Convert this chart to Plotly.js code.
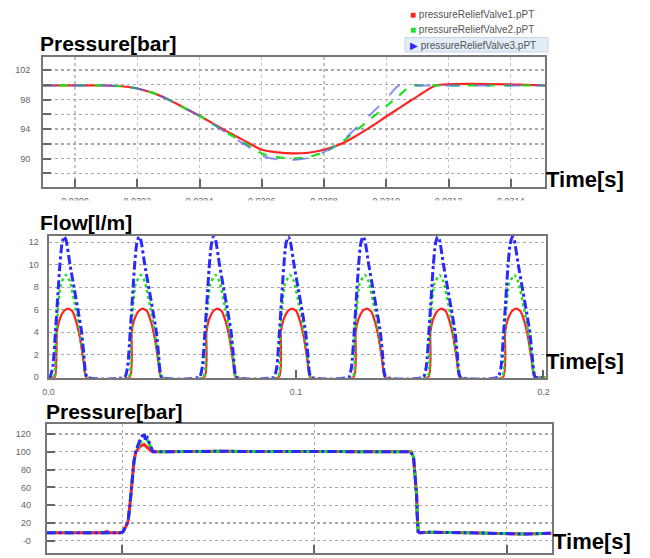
<!DOCTYPE html>
<html><head><meta charset="utf-8">
<script src="https://cdn.plot.ly/plotly-3.0.1.min.js"></script>
<style>html,body{margin:0;padding:0;background:#fff}</style>
</head><body><div id="chart" style="width:650px;height:558px"></div>
<script>
// ---------- Panel 1: pressure, zoomed time window ----------
const p1Time  = [0.02989, 0.03010, 0.03015, 0.03020, 0.03025, 0.03030, 0.03035, 0.03040, 0.03045, 0.03050, 0.03055, 0.03060, 0.03065, 0.03070, 0.03075, 0.03080, 0.03085, 0.03090, 0.03095, 0.03100, 0.03104, 0.03108, 0.03111, 0.03116, 0.03152];
const p1Red   = [99.9, 99.9, 99.8, 99.5, 98.9, 98.0, 96.9, 95.8, 94.6, 93.4, 92.3, 91.2, 90.85, 90.7, 90.8, 91.2, 91.9, 93.0, 94.3, 95.7, 96.8, 97.9, 98.7, 99.9, 99.9];
const p1Green = [99.9, 99.9, 99.8, 99.5, 98.9, 98.0, 96.9, 95.8, 94.5, 93.2, 92.0, 90.7, 90.2, 90.0, 90.2, 90.9, 92.0, 93.7, 95.4, 97.1, 98.5, 99.9, 99.9, 99.9, 99.9];
const p1Blue  = [99.9, 99.9, 99.8, 99.5, 98.9, 98.0, 96.9, 95.8, 94.5, 93.1, 91.8, 90.4, 89.9, 89.8, 90.1, 90.9, 92.1, 94.0, 96.0, 98.1, 99.9, 99.9, 99.9, 99.9, 99.9];
const p1XTicks = [0.0300, 0.0302, 0.0304, 0.0306, 0.0308, 0.0310, 0.0312, 0.0314];
const p1XLabels = ['0.0300', '0.0302', '0.0304', '0.0306', '0.0308', '0.0310', '0.0312', '0.0314'];
const p1YTicks = [88, 90, 92, 94, 96, 98, 100, 102];
const p1YLabels = ['', '90', '', '94', '', '98', '', '102'];

// ---------- Panel 2: flow pulses ----------
const flowPulseStart = [0.0006, 0.0308, 0.0610, 0.0911, 0.1213, 0.1515, 0.1817];
const flowBlueDt   = [0, 0.0012, 0.0022, 0.0028, 0.0040, 0.0048, 0.0057, 0.0065, 0.0081, 0.0097, 0.0113, 0.0128, 0.0137, 0.0150];
const flowBlueVal  = [0, 1, 4, 6, 10, 11.8, 12.5, 12.2, 10, 8, 6, 4, 2, 0];
const flowRedDt    = [0.0020, 0.0028, 0.0040, 0.0057, 0.0073, 0.0089, 0.0105, 0.0121, 0.0137, 0.0146];
const flowRedVal   = [0, 4, 5.2, 5.9, 6.1, 5.9, 5.0, 3.5, 1.2, 0];
const flowGreenDt  = [0.0016, 0.0024, 0.0032, 0.0044, 0.0065, 0.0081, 0.0105, 0.0121, 0.0137, 0.0148];
const flowGreenVal = [0, 3, 6, 8.3, 9.1, 8.5, 6, 4, 1.5, 0];
const p2XTicks = [0, 0.1, 0.2];
const p2XLabels = ['0.0', '0.1', '0.2'];
const p2YTicks = [0, 2, 4, 6, 8, 10, 12];

// ---------- Panel 3: pressure, long time window ----------
const p3Time  = [0.0607, 0.0884, 0.0905, 0.0919, 0.0935, 0.0988, 0.1004, 0.1014, 0.1030, 0.1040, 0.1049, 0.1061, 0.1071, 0.1092, 0.1113, 0.1120, 0.1130, 0.1140, 0.1150, 0.1160, 0.1500, 0.2000, 0.2502, 0.2516, 0.2523, 0.2532, 0.2535, 0.2540, 0.2549, 0.2600, 0.2800, 0.3000, 0.3100, 0.3235];
const p3Red   = [9, 9, 9, 10.5, 9, 9, 10, 14, 21, 40, 59, 89, 100, 106, 108.3, 107, 105, 102.5, 101, 100, 100.5, 100.3, 100, 94, 77, 51, 29, 10, 9, 9.5, 9, 8, 7.5, 8.5];
const p3Green = [9, 9, 9, 9.2, 9, 9, 10, 14, 21, 40, 59, 89, 100, 110, 116, 113, 114, 108, 104, 100, 100.5, 100.3, 100, 94, 77, 51, 29, 10, 9, 9.5, 9, 8, 7.5, 8.5];
const p3Blue  = [9, 9, 9, 9, 9, 9, 10, 14, 21, 40, 59, 89, 101, 113, 121.4, 114, 116, 110, 106, 100, 100.5, 100.3, 100, 94, 77, 51, 29, 10, 9, 9.5, 9, 8, 7.5, 8.5];
const p3XTicks = [0.1, 0.2, 0.3];
const p3YTicks = [0, 20, 40, 60, 80, 100, 120];
const p3YLabels = ['-0', '20', '40', '60', '80', '100', '120'];

const seriesNames = ['pressureReliefValve1.pPT', 'pressureReliefValve2.pPT', 'pressureReliefValve3.pPT'];

// ---------- build ----------
function buildPulses(dts, vals, end) {
  const x = [0], y = [0];
  flowPulseStart.forEach(s => { dts.forEach((d, i) => { x.push(+(s + d).toFixed(5)); y.push(vals[i]); }); });
  x.push(end); y.push(0);
  return {x, y};
}
const RED = '#ff2424', GREEN = '#1ee01e', BLUE = '#2828ff';
const W = 650, H = 558;
const px = v => v / W, py = v => 1 - v / H;

const fr = buildPulses(flowRedDt, flowRedVal, 0.2009);
const fg = buildPulses(flowGreenDt, flowGreenVal, 0.2009);
const fb = buildPulses(flowBlueDt, flowBlueVal, 0.2009);

const traces = [
  {x: p1Time, y: p1Red, xaxis: 'x', yaxis: 'y', mode: 'lines', line: {color: RED, width: 2.2, shape: 'spline', smoothing: 0.6}},
  {x: p1Time, y: p1Green, xaxis: 'x', yaxis: 'y', mode: 'lines', line: {color: GREEN, width: 2.2, dash: 'dash', shape: 'spline', smoothing: 0.6}},
  {x: p1Time, y: p1Blue, xaxis: 'x', yaxis: 'y', mode: 'lines', line: {color: 'rgba(90,100,245,0.7)', width: 2, dash: 'longdash', shape: 'spline', smoothing: 0.6}},
  {x: fr.x, y: fr.y, xaxis: 'x2', yaxis: 'y2', mode: 'lines', line: {color: RED, width: 2.2, shape: 'spline', smoothing: 0.5}},
  {x: fg.x, y: fg.y, xaxis: 'x2', yaxis: 'y2', mode: 'lines', line: {color: GREEN, width: 2.5, dash: 'dot', shape: 'spline', smoothing: 0.5}},
  {x: fb.x, y: fb.y, xaxis: 'x2', yaxis: 'y2', mode: 'lines', line: {color: BLUE, width: 3, dash: 'dashdot', shape: 'spline', smoothing: 0.5}},
  {x: p3Time, y: p3Red, xaxis: 'x3', yaxis: 'y3', mode: 'lines', line: {color: RED, width: 3}},
  {x: p3Time, y: p3Green, xaxis: 'x3', yaxis: 'y3', mode: 'lines', line: {color: GREEN, width: 3, dash: 'dash'}},
  {x: p3Time, y: p3Blue, xaxis: 'x3', yaxis: 'y3', mode: 'lines', line: {color: BLUE, width: 3, dash: 'dashdot'}}
];

const tickFont = {family: 'Liberation Sans, Arial, sans-serif', size: 9, color: '#666'};
const axBase = {showline: true, mirror: true, linecolor: '#767676', linewidth: 2, zeroline: false,
  showgrid: true, gridcolor: '#a8a8a8', griddash: 'dot', gridwidth: 1.3, tickfont: tickFont,
  ticks: 'inside', ticklen: 8, tickwidth: 2, tickcolor: '#666', fixedrange: true};

const layout = {
  width: W, height: H, margin: {l: 0, r: 0, t: 0, b: 0},
  paper_bgcolor: '#fff', plot_bgcolor: '#fff', showlegend: false,
  xaxis: Object.assign({}, axBase, {domain: [px(43), px(545)], range: [0.029897, 0.03151], anchor: 'y',
    tickmode: 'array', tickvals: p1XTicks, ticktext: p1XLabels, gridcolor: '#c4c4c4', ticklabelstandoff: 4}),
  yaxis: Object.assign({}, axBase, {domain: [py(186.7), py(57)], range: [86.2, 103.76], anchor: 'x',
    tickmode: 'array', tickvals: p1YTicks, ticktext: p1YLabels, ticklabelstandoff: 9}),
  xaxis2: Object.assign({}, axBase, {domain: [px(48.5), px(545.7)], range: [0, 0.2009], anchor: 'y2',
    tickmode: 'array', tickvals: p2XTicks, ticktext: p2XLabels, showgrid: false, ticklabelstandoff: 4}),
  yaxis2: Object.assign({}, axBase, {domain: [py(377.7), py(236)], range: [-0.05, 12.56], anchor: 'x2',
    tickmode: 'array', tickvals: p2YTicks, ticks: '', ticklabelstandoff: 6}),
  xaxis3: Object.assign({}, axBase, {domain: [px(46.7), px(551.7)], range: [0.0607, 0.3235], anchor: 'y3',
    tickmode: 'array', tickvals: p3XTicks, showticklabels: false}),
  yaxis3: Object.assign({}, axBase, {domain: [py(553), py(424.3)], range: [-13.8, 130.9], anchor: 'x3',
    tickmode: 'array', tickvals: p3YTicks, ticktext: p3YLabels, ticklabelstandoff: 12}),
  shapes: [
    {type: 'rect', xref: 'paper', yref: 'paper', x0: 0, x1: 1, y0: py(208), y1: py(200.5), fillcolor: '#fff', line: {width: 0}, layer: 'above'},
    {type: 'rect', xref: 'paper', yref: 'paper', x0: px(405), x1: px(548), y0: py(52), y1: py(37.5), fillcolor: '#e3edf8', line: {color: '#c6d7ea', width: 1}, layer: 'below'}
  ],
  annotations: []
};

const titleFont = {family: 'Liberation Sans, Arial, sans-serif', size: 21, color: '#000', weight: 'bold'};
function addText(text, x, y, font, anchor) {
  layout.annotations.push({text: text, xref: 'paper', yref: 'paper', x: px(x), y: py(y), xanchor: anchor || 'left', yanchor: 'middle', showarrow: false, font: font});
}
const timeFont = Object.assign({}, titleFont, {size: 22});
addText('Pressure[bar]', 38, 43, titleFont);
addText('Time[s]', 544, 180, timeFont);
addText('Flow[l/m]', 38, 222, titleFont);
addText('Time[s]', 544, 361, timeFont);
addText('Pressure[bar]', 44, 411, titleFont);
addText('Time[s]', 551, 541, timeFont);

const legFont = {family: 'Liberation Sans, Arial, sans-serif', size: 10, color: '#555'};
const legColors = [RED, GREEN, BLUE];
const legGlyph = ['■', '■', '▶'];
const legY = [14, 29.5, 45];
seriesNames.forEach((n, i) => {
  addText('<span style="color:' + legColors[i] + '">' + legGlyph[i] + '</span> ' + n, 408, legY[i], legFont);
});

Plotly.newPlot('chart', traces, layout, {staticPlot: true, displayModeBar: false});
</script></body></html>
